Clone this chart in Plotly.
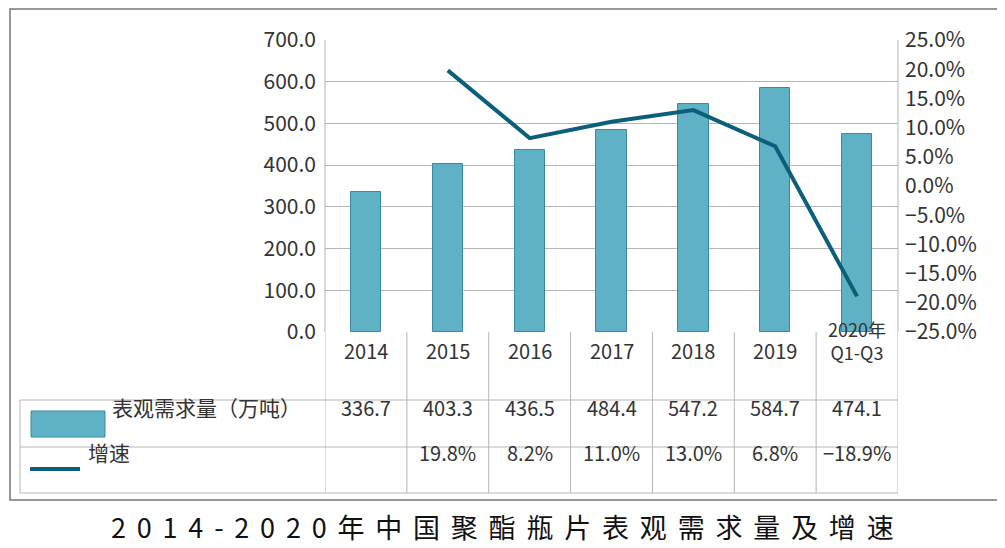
import plotly.graph_objects as go

# data
categories = ["2014", "2015", "2016", "2017", "2018", "2019", "2020年<br>Q1-Q3"]
demand = [336.7, 403.3, 436.5, 484.4, 547.2, 584.7, 474.1]
growth = [None, 19.8, 8.2, 11.0, 13.0, 6.8, -18.9]
demand_name = "表观需求量（万吨）"
growth_name = "增速"
title = "2014-2020年中国聚酯瓶片表观需求量及增速"

OFF = 8  # page body margin
W, H = 1005 - OFF, 548 - OFF
L, R, T, B = 325 - OFF, 898 - OFF, 40 - OFF, 332 - OFF
FONT = "Noto Sans CJK SC"
TXT = "#333333"
BAR = "#5fb2c6"
LINE = "#0c5f7a"


def px_x(p):
    return (p - OFF - L) / (R - L)


def px_y(p):
    return (B - (p - OFF)) / (B - T)


xs = list(range(len(categories)))

fig = go.Figure()
fig.add_trace(go.Bar(x=xs, y=demand, width=0.37, name=demand_name,
                     marker=dict(color=BAR, line=dict(color="#3d8a9c", width=1))))
fig.add_trace(go.Scatter(x=xs, y=growth, yaxis="y2", mode="lines", name=growth_name,
                         line=dict(color=LINE, width=4)))

shapes = []
annots = []
grid = dict(type="line", line=dict(color="#b5b5b5", width=1))

# outer frame
shapes.append(dict(type="rect", xref="paper", yref="paper", x0=px_x(10), x1=px_x(1000),
                   y0=px_y(500), y1=px_y(9), line=dict(color="#777", width=1.5)))
# plot area side lines
for xp in (325, 898):
    shapes.append(dict(grid, xref="paper", yref="paper", x0=px_x(xp), x1=px_x(xp), y0=0, y1=1))

# table
y_hdr, y_r1, y_r2 = px_y(400), px_y(447), px_y(493)
n = len(categories)
for k in range(n + 1):
    shapes.append(dict(grid, xref="x", yref="paper", x0=k - 0.5, x1=k - 0.5, y0=y_r2, y1=0))
for yy in (y_hdr, y_r1, y_r2):
    shapes.append(dict(grid, xref="paper", yref="paper", x0=px_x(20), x1=1, y0=yy, y1=yy))
shapes.append(dict(grid, xref="paper", yref="paper", x0=px_x(20), x1=px_x(20), y0=y_r2, y1=y_hdr))

# legend keys in table
shapes.append(dict(type="rect", xref="paper", yref="paper", x0=px_x(31), x1=px_x(105),
                   y0=px_y(437), y1=px_y(411), fillcolor=BAR, line=dict(color="#3d8a9c", width=1)))
shapes.append(dict(type="line", xref="paper", yref="paper", x0=px_x(30), x1=px_x(80),
                   y0=px_y(469), y1=px_y(469), line=dict(color=LINE, width=4)))
annots.append(dict(xref="paper", yref="paper", x=px_x(110), y=px_y(424), text=demand_name,
                   xanchor="left", showarrow=False, font=dict(size=21, color=TXT, family=FONT)))
annots.append(dict(xref="paper", yref="paper", x=px_x(86), y=px_y(469), text=growth_name,
                   xanchor="left", showarrow=False, font=dict(size=21, color=TXT, family=FONT)))

for i, c in enumerate(categories):
    annots.append(dict(xref="x", yref="paper", x=i, y=px_y(367), text=c, showarrow=False,
                       xanchor="center", font=dict(size=20 if i < n - 1 else 18, color=TXT, family=FONT)))
    annots.append(dict(xref="x", yref="paper", x=i, y=px_y(424), text=f"{demand[i]:.1f}",
                       xanchor="center", showarrow=False, font=dict(size=20, color=TXT, family=FONT)))
    if growth[i] is not None:
        annots.append(dict(xref="x", yref="paper", x=i, y=px_y(469),
                           text=f"{growth[i]:.1f}%".replace("-", "−"), xanchor="center",
                           showarrow=False, font=dict(size=20, color=TXT, family=FONT)))

annots.append(dict(xref="paper", yref="paper", x=px_x(502), y=px_y(526),
                   text="\u2009\u2009".join(title), xanchor="center", yanchor="middle",
                   showarrow=False, font=dict(size=27, color="#111", family=FONT)))

fig.update_layout(
    width=W, height=H,
    margin=dict(l=L, r=W - R, t=T, b=H - B, autoexpand=False),
    paper_bgcolor="white", plot_bgcolor="white",
    showlegend=False, bargap=0,
    font=dict(family=FONT, color=TXT),
    xaxis=dict(range=[-0.5, n - 0.5], showticklabels=False, showgrid=False, zeroline=False),
    yaxis=dict(range=[0, 700], dtick=100, tickformat=".1f", gridcolor="#b5b5b5",
               zeroline=False, tickfont=dict(size=21, color=TXT), ticks="",
               ticklabelstandoff=8),
    yaxis2=dict(range=[-25, 25], dtick=5, tickformat=".1f", ticksuffix="%", overlaying="y",
                side="right", showgrid=False, zeroline=False,
                tickfont=dict(size=21, color=TXT), ticklabelstandoff=6),
    shapes=shapes, annotations=annots,
)

fig.write_html("out.html")
